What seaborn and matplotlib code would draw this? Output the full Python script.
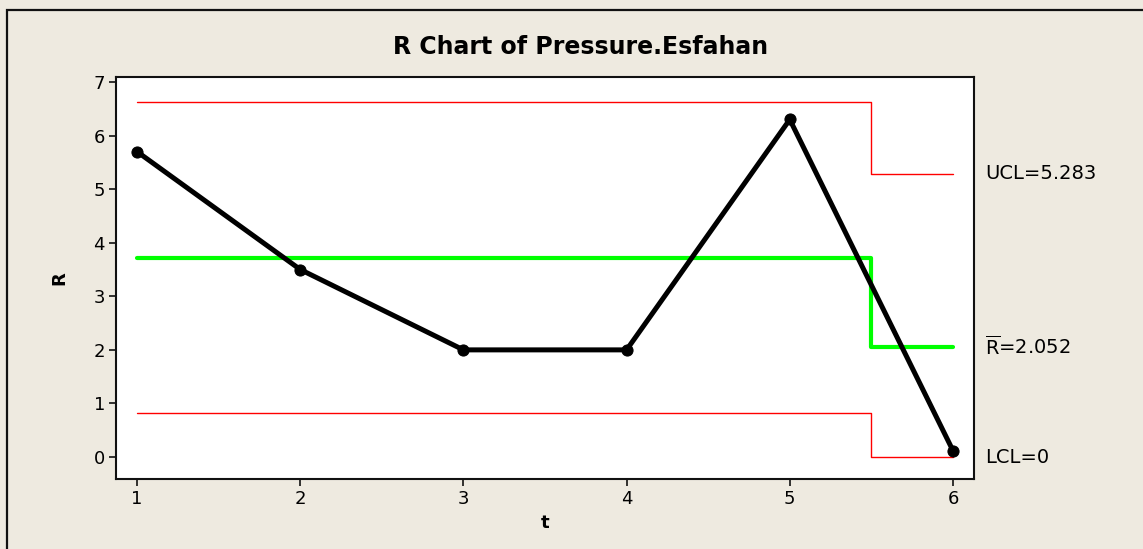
import matplotlib
matplotlib.use("Agg")
import matplotlib.pyplot as plt
import seaborn as sns
import pandas as pd
from matplotlib.patches import Rectangle

# Subgroup ranges
t = [1, 2, 3, 4, 5, 6]
r_values = [5.7, 3.5, 2.0, 2.0, 6.3, 0.12]

# Control limits (step change at t = 5.5)
limit_x = [1, 5.5, 6]
ucl = [6.62, 5.283, 5.283]
center = [3.72, 2.052, 2.052]
lcl = [0.82, 0.0, 0.0]

limit_labels = ["UCL=5.283", r"$\overline{\mathrm{R}}$=2.052", "LCL=0"]
limit_label_y = [5.283, 2.052, 0.0]

sns.set_style("white")
plt.rcParams["font.family"] = ["DejaVu Sans"]
plt.rcParams["mathtext.fontset"] = "dejavusans"
plt.rcParams["text.color"] = "black"
plt.rcParams["axes.labelcolor"] = "black"
plt.rcParams["xtick.color"] = "black"
plt.rcParams["ytick.color"] = "black"

bg = "#EEEAE0"
fig = plt.figure(figsize=(11.43, 5.49), dpi=100, facecolor=bg)
ax = fig.add_axes([116 / 1143, 1 - 479 / 549, (974 - 116) / 1143, (479 - 77) / 549])
ax.set_facecolor("white")

# Outer frame
fig.patches.append(Rectangle((7 / 1143, -0.1), 1.2, 1 - 10 / 549 + 0.1,
                             transform=fig.transFigure, fill=False,
                             edgecolor="#111111", linewidth=1.6, zorder=0))

df_lim = pd.DataFrame({"x": limit_x, "ucl": ucl, "center": center, "lcl": lcl})
sns.lineplot(data=df_lim, x="x", y="ucl", ax=ax, color="#FF0000", linewidth=1.0,
             drawstyle="steps-post", estimator=None)
sns.lineplot(data=df_lim, x="x", y="lcl", ax=ax, color="#FF0000", linewidth=1.0,
             drawstyle="steps-post", estimator=None)
sns.lineplot(data=df_lim, x="x", y="center", ax=ax, color="#00FF00", linewidth=3.0,
             drawstyle="steps-post", estimator=None)

df = pd.DataFrame({"t": t, "R": r_values})
sns.lineplot(data=df, x="t", y="R", ax=ax, color="black", linewidth=3.6,
             marker="o", markersize=8, markeredgecolor="black", estimator=None,
             zorder=5)

ax.set_xlim(0.871, 6.129)
ax.set_ylim(-0.41, 7.093)
ax.set_xticks(t)
ax.set_yticks(range(0, 8))
ax.tick_params(axis="both", direction="out", length=5, width=1.2, color="#111111",
               labelcolor="black", labelsize=13, pad=3, bottom=True, left=True)
for s in ax.spines.values():
    s.set_color("#111111")
    s.set_linewidth(1.5)

ax.set_xlabel("t", fontsize=13, fontweight="bold", labelpad=4)
ax.set_ylabel("R", fontsize=13, fontweight="bold", labelpad=18)
fig.text(581 / 1143, 1 - 47 / 549, "R Chart of Pressure.Esfahan", ha="center",
         va="center", fontsize=17, fontweight="bold", color="black")

for lab, yv in zip(limit_labels, limit_label_y):
    ax.annotate(lab, xy=(1.0, yv), xycoords=("axes fraction", "data"),
                xytext=(8, 0), textcoords="offset points", ha="left", va="center",
                fontsize=14, color="black", annotation_clip=False)

fig.savefig("out.png", dpi=100, facecolor=bg)
